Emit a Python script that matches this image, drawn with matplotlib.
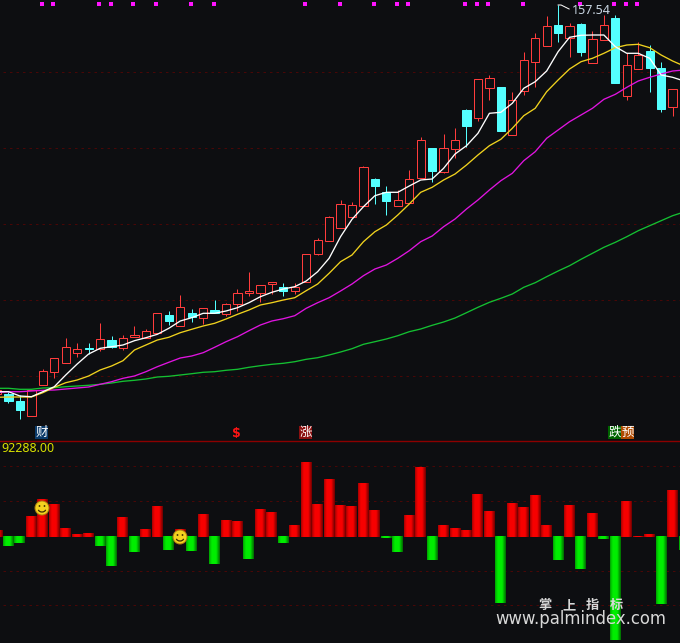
import matplotlib
matplotlib.use("Agg")
import matplotlib.pyplot as plt
from matplotlib.patches import Circle, Rectangle, Arc

plt.rcParams['font.family'] = ['Noto Sans CJK SC', 'DejaVu Sans']

BG = '#0d0e11'
RED = '#ff3c3c'
CYAN = '#54ffff'

body_top = [390, 394, 401, 390, 371.3, 358, 347.3, 349.3, 347.5, 339.3,
            340, 338.3, 335.3, 331.3, 313.3, 315, 307.3, 313, 308.3, 310,
            304.3, 293.3, 290.7, 285.3, 282.3, 287.3, 286.7, 254.3, 240.3, 217.3,
            204.3, 205.3, 167.3, 179, 192.3, 200.3, 179.3, 140.3, 148, 148.3,
            140.3, 110, 79.3, 78.3, 87, 100.3, 60.3, 38.3, 26.3, 25,
            26.3, 24, 39.3, 25.3, 18, 65.3, 55, 51, 68.3, 89.3]
body_bot = [394, 400.7, 410, 415.7, 384.7, 371.7, 362.7, 352.7, 348.5, 349.3,
            346.7, 347.7, 337.3, 337.7, 332.7, 321, 325.7, 317.3, 317.7, 313.3,
            313.7, 304.3, 293.3, 292.7, 283.7, 290.7, 290.7, 281.7, 254, 240.7,
            227.7, 216.7, 205.7, 186, 201, 205.7, 202.7, 177.7, 171, 171.7,
            148.7, 125.7, 117.7, 87.7, 131, 134.7, 90.7, 61.7, 45.7, 33,
            37.7, 52, 62.7, 40, 83, 95.7, 68.7, 68, 109, 106.7]
high = [390, 392, 395, 390, 369, 358, 338, 343, 343, 323,
        336, 335, 326, 329, 313.3, 311, 295, 309, 308.3, 300,
        303, 289, 272, 285.3, 282.3, 283, 283, 254.3, 238, 216,
        200, 202, 166, 178, 186, 190, 170, 137, 148, 134,
        128, 108.7, 79.3, 75, 87, 92, 52, 33, 16, 5,
        23.3, 23, 31, 15, 15, 53, 42, 45, 62, 89.3]
low = [394, 403, 419, 415.7, 384.7, 378, 362.7, 357, 354, 351,
       348, 350, 337.3, 337.7, 332.7, 325, 325.7, 322, 324, 313.3,
       316, 311, 296, 302, 294, 296, 294, 281.7, 255, 240.7,
       227.7, 216.7, 205.7, 204, 215, 205.7, 202.7, 177.7, 181.7, 172.7,
       157.7, 146.7, 120.7, 100, 131, 134.7, 95, 86.7, 45.7, 42,
       56.7, 55.7, 62.7, 40, 83, 100, 68.7, 92, 112, 116]
rising = [1, 0, 0, 1, 1, 1, 1, 1, 0, 1,
          0, 1, 1, 1, 1, 0, 1, 0, 1, 0,
          1, 1, 1, 1, 1, 0, 1, 1, 1, 1,
          1, 1, 1, 0, 0, 1, 1, 1, 0, 1,
          1, 0, 1, 1, 0, 1, 1, 1, 1, 0,
          1, 0, 1, 1, 0, 1, 1, 0, 0, 1]

ma_white = [391.7, 391.7, 396, 396.7, 391.7, 386.7, 375, 364, 354, 348.3,
            346.7, 345, 340.7, 337.7, 334.3, 328.3, 321, 317.7, 313.3, 313.3,
            311, 307.7, 302.7, 296.7, 292.3, 289, 286.7, 281, 271.7, 258.3,
            236.7, 219.3, 206.7, 195.7, 192.3, 192.3, 186, 180, 179, 168.3,
            154, 145.7, 133.3, 113.3, 112.3, 103.3, 88.3, 81.7, 71, 51.7,
            37.3, 35.3, 35, 35, 46.7, 53.3, 53.3, 58.3, 75, 77.3, 81]
ma_yellow = [397.3, 397, 397, 397, 392.7, 387.3, 382.7, 380, 376, 370,
             366, 360.7, 350, 345, 340, 337.3, 332.7, 329.3, 326, 323.3,
             319, 314.3, 310, 305, 302.7, 300, 297.7, 290.7, 284, 273.3,
             261.7, 255, 241.7, 231.7, 225, 215, 204, 192.3, 187.3, 180,
             174, 165, 155, 145.7, 139.3, 128.3, 115.7, 108.3, 91.7, 80,
             69, 61.7, 58.3, 53.3, 47.7, 45, 44.3, 47.7, 55, 61, 66]
ma_magenta = [392.7, 391.7, 391.7, 391, 390.3, 390, 389, 388, 387, 384.3,
              381.7, 378.3, 376, 371.7, 366.7, 362.3, 358, 356, 352.7, 347.3,
              341.7, 336.7, 330.7, 325, 321, 318.7, 315.7, 308.3, 302.7, 297.7,
              291, 284, 275.7, 269, 265, 258.3, 250.7, 241.7, 236, 226.7,
              219, 209, 200, 190, 180.7, 173.3, 160.7, 151.7, 138.3, 130,
              121.7, 115, 108.3, 99.3, 94.3, 87.3, 81, 77.3, 74, 71, 70]
ma_green = [388.3, 388.3, 389.3, 389.3, 388, 387.7, 386.7, 386, 385.3, 384.3,
            383, 381.3, 380.3, 379, 377, 376.3, 375, 373.7, 372.3, 371.7,
            370.3, 369.3, 367.3, 365.7, 364.3, 363.3, 361.7, 359.3, 357.7, 355,
            352, 348.7, 344.3, 341.7, 339, 335.7, 331.7, 329, 325.3, 322,
            318, 312.7, 307.3, 302.3, 298.3, 294, 287.3, 282.7, 276.7, 271,
            265.7, 259.3, 253.3, 247.3, 242.3, 236.7, 230.7, 225.7, 220.7, 215.7, 212]

signal_days = [4, 5, 9, 10, 12, 14, 17, 19, 27, 30, 33, 35, 36, 41, 42, 43, 46, 51, 54, 55, 56]

# lower pane, positive = red, negative = green
volume = [7, -10, -7, 21, 38, 33, 9, 3, 4, -10,
          -30, 20, -16, 8, 31, -14, 8, -15, 23, -28,
          17, 16, -23, 28, 25, -7, 12, 75, 33, 58,
          32, 31, 54, 27, -2, -16, 22, 70, -24, 12,
          9, 7, 43, 26, -67, 34, 30, 42, 12, -24,
          32, -33, 24, -3, -104, 36, 1, 3, -68, 47, -14]

price_grid = [72, 148, 224, 300, 376]
vol_grid = [71, 36, -34, -68]

# stripes across a bar, gives the shaded look
shade = [0.72, 0.85, 0.95, 1, 1, 1, 1, 0.95, 0.8, 0.65, 0.5]

fig = plt.figure(figsize=(6.8, 6.43), dpi=100, facecolor=BG)
px = 1 / 11.45
xmin = 2.95 * px
xmax = 682.95 * px

ax = fig.add_axes([0, 203 / 643, 1, 440 / 643])
ax.set_xlim(xmin, xmax)
ax.set_ylim(440, 0)
ax.set_axis_off()

ax2 = fig.add_axes([0, 0, 1, 203 / 643])
ax2.set_xlim(xmin, xmax)
ax2.set_ylim(-106, 97)
ax2.set_axis_off()

top = fig.add_axes([0, 0, 1, 1])
top.set_xlim(0, 680)
top.set_ylim(643, 0)
top.set_axis_off()

for y in price_grid:
    ax.plot([xmin + 3 * px, xmax], [y, y], color='#480707', lw=0.72, dashes=(2.5, 4), zorder=0)
for y in vol_grid:
    ax2.plot([xmin + 3 * px, xmax], [y, y], color='#480707', lw=0.72, dashes=(2.5, 4), zorder=0)

for i in range(len(body_top)):
    c = RED if rising[i] else CYAN
    ax.plot([i, i], [high[i], body_top[i]], color=c, lw=0.72, zorder=2, snap=True, solid_capstyle='butt')
    ax.plot([i, i], [body_bot[i], low[i]], color=c, lw=0.72, zorder=2, snap=True, solid_capstyle='butt')
    ax.bar(i, body_bot[i] - body_top[i], bottom=body_top[i], width=0.72,
           facecolor=BG if rising[i] else CYAN, edgecolor=c, lw=0.72, zorder=3, snap=True)

days = range(len(ma_white))
ax.plot(days, ma_green, color='#14c032', lw=0.95, zorder=4)
ax.plot(days, ma_magenta, color='#e014e0', lw=0.95, zorder=5)
ax.plot(days, ma_yellow, color='#f0d21e', lw=0.95, zorder=6)
ax.plot(days, ma_white, color='#ffffff', lw=0.95, zorder=7)

ax.scatter([d - 1 * px for d in signal_days], [3.5] * len(signal_days), marker='s', s=6,
           color='#ff14ff', linewidths=0, zorder=8)

for i, v in enumerate(volume):
    for k, s in enumerate(shade):
        xs = i + (k - 5) * px
        if v >= 0:
            ax2.bar(xs, v, width=px, color=(s * 0.97, 0, 0), linewidth=0, zorder=2)
        else:
            ax2.bar(xs, v, bottom=1, width=px, color=(0, s * 0.93, 0), linewidth=0, zorder=2)

# peak label
peak = high.index(min(high))
peak_x = (peak - xmin) / px
top.plot([peak_x, peak_x + 3, peak_x + 11], [5, 5, 9], color='white', lw=0.72)
top.text(peak_x + 14, 10.5, '157.54', color='#c9d6e2', fontsize=9, family='Noto Sans', va='center', ha='left')

top.plot([0, 680], [440.5, 440.5], color='#8c0000', lw=1.0, snap=True)
top.text(1, 449, '92288.00', color='#d8e000', fontsize=9, family='Noto Sans', va='center', ha='left')

# event tags above the separator
for label, x0, bg in [('财', 35, '#0a3a6a'), ('涨', 299, '#8a1010'), ('跌', 608, '#006400'), ('预', 621, '#b04a00')]:
    top.add_patch(Rectangle((x0, 426), 13, 13, facecolor=bg, edgecolor='none'))
    top.text(x0 + 6.5, 432.5, label, color='white', fontsize=9, ha='center', va='center')
top.text(236, 433.5, '$', color='#ff1414', fontsize=9, weight='bold', family='DejaVu Sans', ha='center', va='center')

for cx, cy in [(42, 508), (180, 537)]:
    top.add_patch(Circle((cx, cy), 7, facecolor='#f4d21f', edgecolor='#a87c10', lw=0.7, zorder=10))
    top.add_patch(Circle((cx - 2.5, cy - 2), 0.9, facecolor='#3a2a00', edgecolor='none', zorder=11))
    top.add_patch(Circle((cx + 2.5, cy - 2), 0.9, facecolor='#3a2a00', edgecolor='none', zorder=11))
    top.add_patch(Arc((cx, cy + 0.5), 8, 7, theta1=20, theta2=160, color='#3a2a00', lw=0.9, zorder=11))

# watermark
for ch, x in zip('掌上指标', [545, 569, 592, 616]):
    top.text(x, 605, ch, color='#d8d8d8', fontsize=9.5, weight='bold', ha='center', va='center', zorder=12)
top.text(495, 619.5, 'www.palmindex.com', color='#d8d8d8', fontsize=11.9, family='DejaVu Sans',
         ha='left', va='center', zorder=12)

fig.savefig('out.png', dpi=100, facecolor=BG)
